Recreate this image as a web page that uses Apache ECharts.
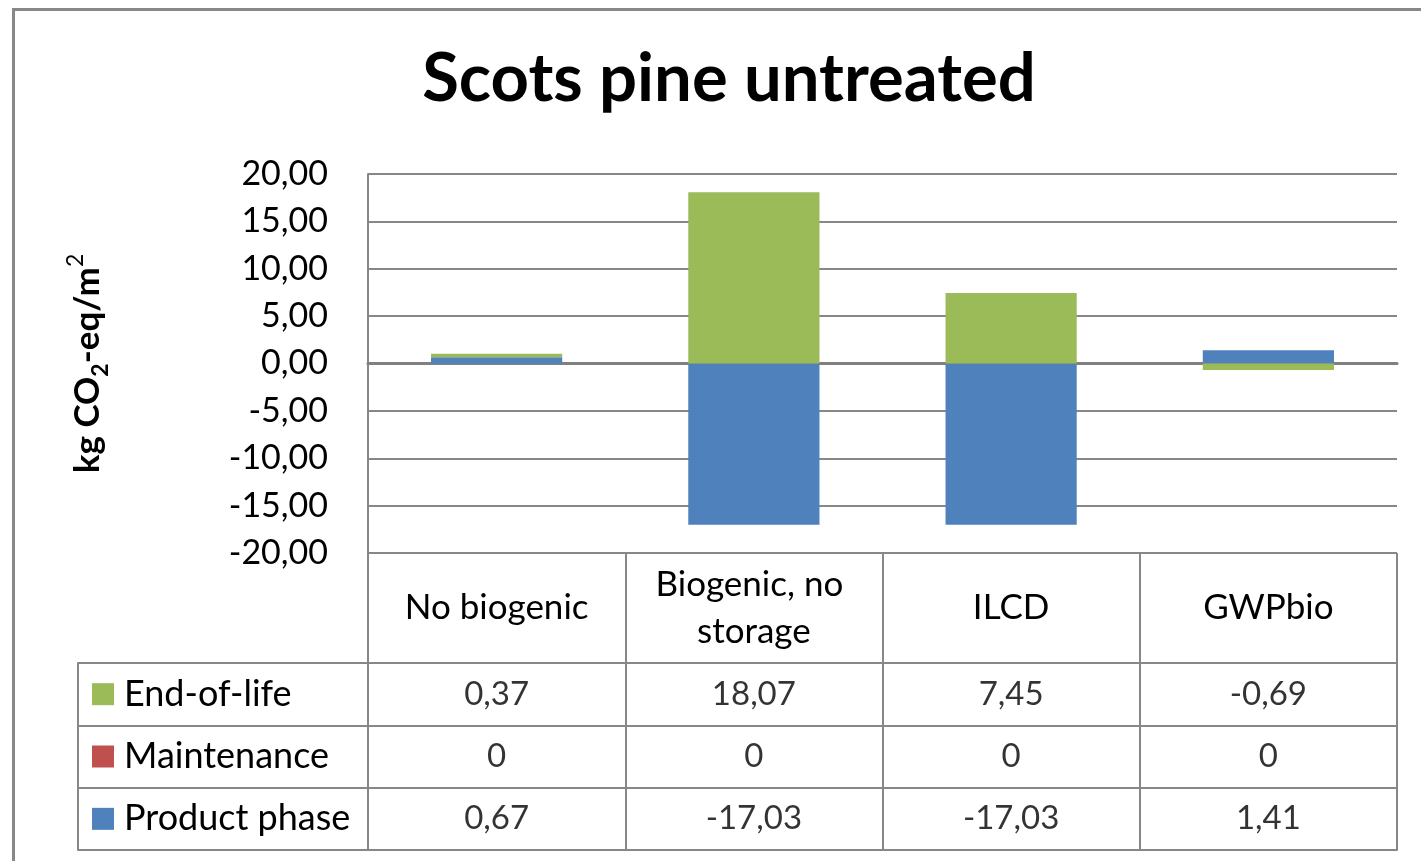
<!DOCTYPE html>
<html>
<head>
<meta charset="utf-8">
<title>Scots pine untreated</title>
<script src="https://cdn.jsdelivr.net/npm/echarts@6/dist/echarts.min.js"></script>
<style>
  html, body { margin: 0; padding: 0; background: #fff; }
  #chart { width: 1421px; height: 861px; }
</style>
</head>
<body>
<div id="chart"></div>
<script>
// Scenario columns and stacked contributions (kg CO2-eq/m2)
const categories = ['No biogenic', 'Biogenic, no storage', 'ILCD', 'GWPbio'];
const endOfLife = [0.37, 18.07, 7.45, -0.69];
const maintenance = [0, 0, 0, 0];
const productPhase = [0.67, -17.03, -17.03, 1.41];
const rowNames = ['End-of-life', 'Maintenance', 'Product phase'];
const yMin = -20, yMax = 20, yStep = 5;

const FONT = 'Lato';
const GRID_GRAY = '#878787';
const colors = { eol: '#9BBB59', maint: '#C0504D', prod: '#4F81BD' };

const fmt = v => (v === 0 ? '0' : v.toFixed(2).replace('.', ','));

// rows of the data table, in the order they are listed
const tableRows = [
  { name: rowNames[0], values: endOfLife, color: colors.eol },
  { name: rowNames[1], values: maintenance, color: colors.maint },
  { name: rowNames[2], values: productPhase, color: colors.prod }
];
const tableCells = [];
tableRows.forEach((row, r) => row.values.forEach((v, c) => tableCells.push([c, r, v])));

const rich = {};
tableRows.forEach((row, i) => {
  rich['sq' + i] = { width: 22, height: 22, backgroundColor: row.color };
});
rich.t = { fontFamily: FONT, fontSize: 36, color: '#000', padding: [0, 0, 0, 10] };

const chart = echarts.init(document.getElementById('chart'), null, { renderer: 'canvas' });

const plotLeft = 368, plotWidth = 1029;

chart.setOption({
  animation: false,
  backgroundColor: '#fff',
  title: {
    text: 'Scots pine untreated',
    left: 724,
    textAlign: 'center',
    top: 41,
    textStyle: { fontFamily: FONT, fontSize: 67, fontWeight: 'bold', color: '#000' }
  },
  graphic: [{
    type: 'rect',
    left: 11, top: 7,
    shape: { width: 1600, height: 1000 },
    style: { fill: 'none', stroke: '#888', lineWidth: 3 },
    z: -10
  }],
  grid: [
    { left: plotLeft, top: 174, width: plotWidth, height: 379 },
    { left: plotLeft, top: 663, width: plotWidth, height: 187 }
  ],
  xAxis: [
    { // zero line of the plot
      type: 'category', gridIndex: 0, data: categories,
      axisLine: { show: true, onZero: true, lineStyle: { color: '#808080', width: 3 } },
      axisTick: { show: false }, axisLabel: { show: false }, splitLine: { show: false }
    },
    { // header row of the data table
      type: 'category', gridIndex: 0, data: categories, position: 'bottom',
      axisLine: { show: false, onZero: false },
      axisTick: { show: true, length: 110, lineStyle: { color: GRID_GRAY, width: 2 } },
      axisLabel: {
        interval: 0, margin: 55, verticalAlign: 'middle', lineHeight: 47,
        width: 230, overflow: 'break',
        fontFamily: FONT, fontSize: 35, color: '#000'
      },
      splitLine: { show: false }
    },
    { // value columns of the data table
      type: 'category', gridIndex: 1, data: categories,
      axisLine: { show: true, lineStyle: { color: GRID_GRAY, width: 2 } },
      axisTick: { show: false }, axisLabel: { show: false },
      splitLine: { show: true, lineStyle: { color: GRID_GRAY, width: 2 } }
    }
  ],
  yAxis: [
    {
      type: 'value', gridIndex: 0, min: yMin, max: yMax, interval: yStep,
      name: '{b|kg CO}{s|2}{b|-eq/m}{p|2}',
      nameLocation: 'middle', nameGap: 256,
      nameTextStyle: {
        rich: {
          b: { fontFamily: FONT, fontSize: 35, fontWeight: 'bold', color: '#000', lineHeight: 48 },
          s: { fontFamily: FONT, fontSize: 23, fontWeight: 'bold', color: '#000', lineHeight: 48, verticalAlign: 'bottom' },
          p: { fontFamily: FONT, fontSize: 23, color: '#000', lineHeight: 48, verticalAlign: 'top' }
        }
      },
      axisLine: { show: true, lineStyle: { color: GRID_GRAY, width: 2 } },
      axisTick: { show: false },
      axisLabel: { margin: 40, fontFamily: FONT, fontSize: 34, color: '#000', formatter: v => v.toFixed(2).replace('.', ',') },
      splitLine: { show: true, lineStyle: { color: GRID_GRAY, width: 2 } }
    },
    { // row names with colour keys
      type: 'category', gridIndex: 1, data: rowNames, inverse: true,
      axisLine: { show: false },
      axisTick: { show: true, length: 290, lineStyle: { color: GRID_GRAY, width: 2 } },
      axisLabel: {
        margin: 276, align: 'left',
        formatter: (v, i) => '{sq' + i + '|}{t|' + v + '}',
        rich: rich
      },
      splitLine: { show: true, lineStyle: { color: GRID_GRAY, width: 2 } }
    },
    { // left border of the key column
      type: 'category', gridIndex: 1, data: rowNames, inverse: true, position: 'left', offset: 290,
      axisLine: { show: true, lineStyle: { color: GRID_GRAY, width: 2 } },
      axisTick: { show: false }, axisLabel: { show: false }, splitLine: { show: false }
    }
  ],
  series: [
    { name: 'Product phase', type: 'bar', stack: 'total', xAxisIndex: 0, yAxisIndex: 0,
      barWidth: '51%', itemStyle: { color: colors.prod }, data: productPhase },
    { name: 'Maintenance', type: 'bar', stack: 'total', xAxisIndex: 0, yAxisIndex: 0,
      barWidth: '51%', itemStyle: { color: colors.maint }, data: maintenance },
    { name: 'End-of-life', type: 'bar', stack: 'total', xAxisIndex: 0, yAxisIndex: 0,
      barWidth: '51%', itemStyle: { color: colors.eol }, data: endOfLife },
    { name: 'table', type: 'scatter', xAxisIndex: 2, yAxisIndex: 1,
      symbol: 'rect', symbolSize: 1, itemStyle: { color: 'rgba(0,0,0,0)' },
      label: {
        show: true, position: 'inside',
        fontFamily: FONT, fontSize: 33, color: '#000',
        formatter: p => fmt(p.value[2])
      },
      data: tableCells }
  ]
});
</script>
</body>
</html>
